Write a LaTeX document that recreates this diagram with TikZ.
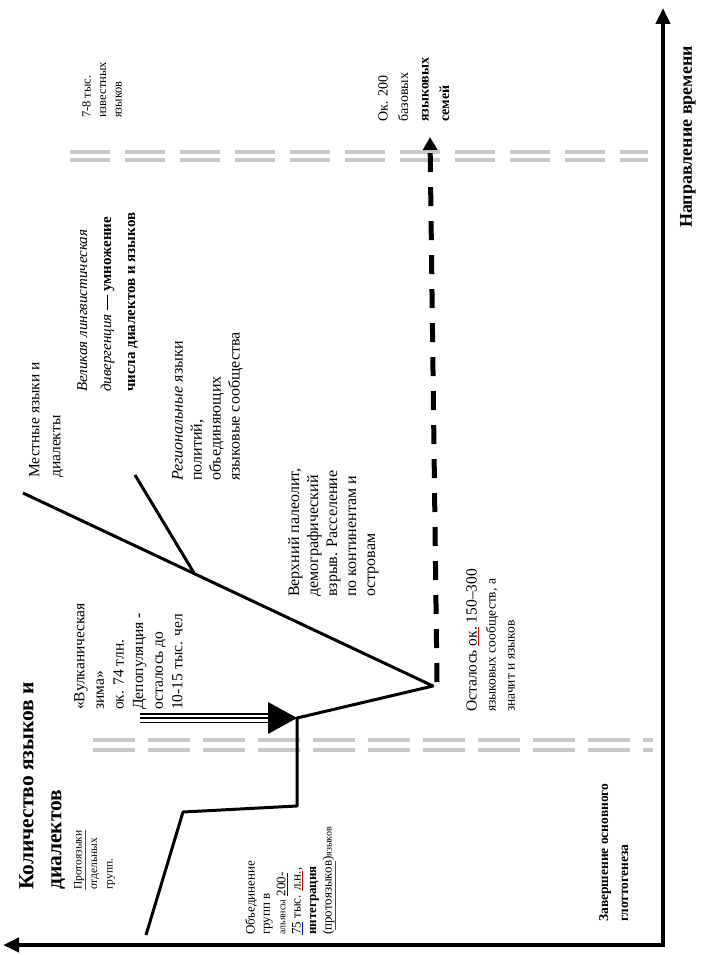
\documentclass[tikz,border=0pt]{standalone}
\usepackage{fontspec}
\setmainfont{Liberation Serif}
\usetikzlibrary{arrows.meta,calc}
\definecolor{dashgray}{RGB}{200,200,200}
\newcommand\colul[2]{{\color{#1}$\underline{\hbox{\color{black}#2}}$}}
\begin{document}
\begin{tikzpicture}[x=1pt,y=-1pt,
  lbl/.style={rotate=90, anchor=north west, inner sep=0pt, align=left},
  axis/.style={line width=4.5pt, -{Triangle[length=16pt,width=14pt]}},
  curve/.style={line width=3pt, line join=round},
  gdash/.style={line width=3.5pt, dashgray}
]
\useasboundingbox (0,0) rectangle (705,955);

% gray double dashed time marks
\coordinate (g1a) at (62,152);  \coordinate (g1b) at (648,152);
\coordinate (g2a) at (62,160);  \coordinate (g2b) at (648,160);
\coordinate (g3a) at (93,740);  \coordinate (g3b) at (653,740);
\coordinate (g4a) at (93,750);  \coordinate (g4b) at (653,750);
\draw[gdash, dash pattern=on 40pt off 15pt, dash phase=-8pt] (g1a) -- (g1b);
\draw[gdash, dash pattern=on 40pt off 15pt, dash phase=-8pt] (g2a) -- (g2b);
\draw[gdash, dash pattern=on 42pt off 13pt] (g3a) -- (g3b);
\draw[gdash, dash pattern=on 42pt off 13pt] (g4a) -- (g4b);

% axes
\coordinate (O) at (663,945);
\coordinate (Ytip) at (3,945);
\coordinate (Xtip) at (663,8);
\draw[axis, line cap=rect] (O) -- (Ytip);
\draw[axis, line cap=rect] (O) -- (Xtip);

% main curve
\coordinate (p1) at (146,935);
\coordinate (p2) at (183,812);
\coordinate (p3) at (297,806);
\coordinate (p4) at (297,718);
\coordinate (apex) at (433,686);
\coordinate (endL) at (23,493);
\coordinate (br0) at (194,573);
\coordinate (br1) at (135,475);
\draw[curve] (p1) -- (p2) -- (p3) -- (p4) -- (apex) -- (endL);
\draw[curve] (br0) -- (br1);

% triple-line arrow
\coordinate (tStart) at (140,718);
\coordinate (tBase) at (268,718);
\draw[line width=10pt] (tStart) -- (tBase);
\draw[line width=7pt, white] (tStart) -- (tBase);
\draw[line width=1.6pt] (tStart) -- (tBase);
\fill ($(tBase)+(0,-16)$) -- (p4) -- ($(tBase)+(0,16)$) -- cycle;

% dashed arrow
\coordinate (dStart) at (437,682);
\coordinate (dTip) at (430,137);
\draw[line width=5pt, dash pattern=on 19pt off 15pt, -{Triangle[length=13pt,width=14pt]}] (dStart) -- (dTip);

% texts
\node[lbl, font=\bfseries\fontsize{21.5}{28}\selectfont] (title) at (19,890) {Количество языков и\\диалектов};
\node[lbl, font=\fontsize{11.5}{15.5}\selectfont] (proto) at (74,890) {\colul{red}{Протоязыки}\\отдельных\\групп.};
\node[lbl, font=\fontsize{15.5}{19.6}\selectfont] (volc) at (74,710) {«Вулканическая\\зима»\\ок. 74 тлн.\\Депопуляция -\\осталось до\\10-15 тыс. чел};
\node[lbl, font=\fontsize{13}{15.4}\selectfont] (union) at (245,935) {Объединение\\групп в\\{\fontsize{10}{15.4}\selectfont альянсы} \colul{blue}{200-}\\\colul{blue}{75} тыс. \colul{red}{л.н.},\\\textbf{интеграция}\\(\colul{red}{протоязыков}){\fontsize{10}{15.4}\selectfont языков}};
\node[lbl, font=\bfseries\fontsize{13.5}{20}\selectfont] (fin) at (599,922) {Завершение основного\\глоттогенеза};
\node[lbl, font=\fontsize{16}{19}\selectfont] (paleo) at (288,597) {Верхний палеолит,\\демографический\\взрыв. Расселение\\по континентам и\\островам};
\node[lbl, font=\fontsize{16}{19}\selectfont] (reg) at (172,481) {\textit{Региональные} языки\\политий,\\объединяющих\\языковые сообщества};
\node[lbl, font=\fontsize{15.5}{21}\selectfont] (local) at (29,478) {Местные языки и\\диалекты};
\node[lbl, font=\fontsize{15}{24}\selectfont] (great) at (77,392) {\textit{Великая лингвистическая}\\\textit{дивергенция} \textbf{— умножение}\\\textbf{числа диалектов и языков}};
\node[lbl, font=\fontsize{12.5}{15.5}\selectfont] (known) at (82,118) {7-8 тыс.\\известных\\языков};
\node[lbl, font=\fontsize{14}{20.5}\selectfont] (fam) at (378,122) {Ок. 200\\базовых\\\textbf{языковых}\\\textbf{семей}};
\node[lbl, font=\fontsize{13.5}{19}\selectfont] (rest) at (466,712) {{\fontsize{15.5}{19}\selectfont Осталось \colul{red}{ок.} 150–300}\\языковых сообществ, а\\значит и языков};
\node[rotate=90, inner sep=0pt, font=\bfseries\fontsize{18}{20}\selectfont] (timeaxis) at (688,137) {Направление времени};
\end{tikzpicture}
\end{document}
